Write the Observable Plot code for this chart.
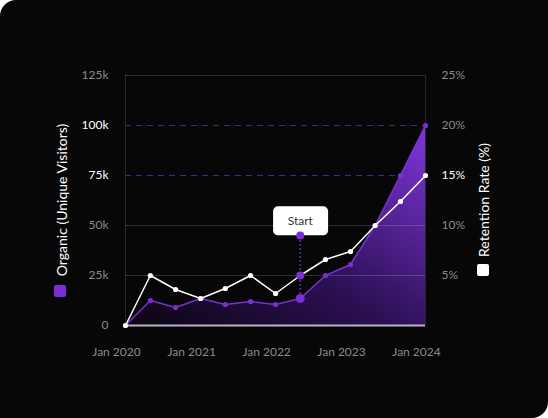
<!DOCTYPE html>
<html>
<head>
<meta charset="utf-8">
<script src="https://cdn.jsdelivr.net/npm/d3@7"></script>
<script src="https://cdn.jsdelivr.net/npm/@observablehq/plot@0.6"></script>
<style>
  html, body { margin: 0; padding: 0; background: #ffffff; }
  #card { width: 548px; height: 418px; background: #070707; border-radius: 16px 0 16px 0; overflow: hidden; position: relative; }
</style>
</head>
<body>
<div id="card"></div>
<script>
// ---- data ----
const dates = ["2020-01","2020-05","2020-09","2021-01","2021-05","2021-09","2022-01","2022-05","2022-09","2023-01","2023-05","2023-09","2024-01"];
const organic = [0, 12500, 9000, 13500, 10500, 12000, 10500, 13500, 25000, 30500, 50000, 75000, 100000];
const retention = [0, 5, 3.6, 2.7, 3.7, 5, 3.2, 5, 6.6, 7.4, 10, 12.4, 15];
const leftTicks = [0, 25000, 50000, 75000, 100000, 125000];
const leftHighlight = [75000, 100000];
const rightTicks = [5, 10, 15, 20, 25];
const rightHighlight = [15];
const xTicks = ["2020-01","2021-01","2022-01","2023-01","2024-01"];
const startIndex = 7;
const startValue = 45000;
const startLabel = "Start";
const seriesNames = ["Organic (Unique Visitors)", "Retention Rate (%)"];

const parse = d3.utcParse("%Y-%m");
const ratio = 125000 / 25; // right axis % -> left axis units
const rows = dates.map((d, i) => ({date: parse(d), organic: organic[i], retention: retention[i] * ratio}));
const purple = "#7B2FD0";

const highlightRows = leftHighlight.map(v => rows.find(r => r.organic === v));

const chart = Plot.plot({
  width: 548, height: 418,
  marginLeft: 125, marginRight: 123, marginTop: 75, marginBottom: 93,
  style: {background: "transparent", color: "#8a8a8a", fontFamily: "Lato, sans-serif", fontSize: "12px"},
  x: {type: "utc", domain: [parse(dates[0]), parse(dates[dates.length - 1])]},
  y: {domain: [0, 125000]},
  marks: [
    // frame verticals
    Plot.ruleX([parse(dates[0]), parse(dates[dates.length - 1])], {stroke: "#262626", strokeWidth: 1}),
    // highlight dashed guides
    Plot.ruleY(highlightRows, {y: "organic", x1: parse(dates[0]), x2: "date", stroke: "#3b2c86", strokeDasharray: "6,5", strokeWidth: 1}),
    // area
    Plot.areaY(rows, {x: "date", y: "organic", fill: "url(#areaGrad)"}),
    // grid
    Plot.gridY(leftTicks.filter(t => t !== 0 && !leftHighlight.includes(t)), {stroke: "#ffffff", strokeOpacity: 0.16}),
    // baseline
    Plot.ruleY([0], {stroke: "#b9b3c6", strokeWidth: 2}),
    // organic line
    Plot.line(rows, {x: "date", y: "organic", stroke: purple, strokeWidth: 1.5}),
    Plot.dot(rows, {x: "date", y: "organic", fill: purple, r: 2.6}),
    // start annotation rule
    Plot.ruleX([rows[startIndex]], {x: "date", y1: "organic", y2: () => startValue, stroke: "#4b2585", strokeWidth: 2, strokeDasharray: "2,2"}),
    // retention line
    Plot.line(rows, {x: "date", y: "retention", stroke: "#ffffff", strokeWidth: 1.5}),
    Plot.dot(rows, {x: "date", y: "retention", fill: "#ffffff", r: 2.6}),
    // start annotation dots
    Plot.dot([rows[startIndex]], {x: "date", y: "organic", fill: purple, r: 4.5}),
    Plot.dot([rows[startIndex]], {x: "date", y: "retention", fill: purple, r: 4}),
    Plot.text([rows[startIndex]], {x: "date", y: () => startValue, text: () => startLabel, dy: -14.5, fill: "#333333", fontSize: 12}),
    Plot.dot([rows[startIndex]], {x: "date", y: () => startValue, fill: purple, r: 4}),
    // axes
    Plot.axisY(leftTicks.filter(t => !leftHighlight.includes(t)), {anchor: "left", tickSize: 0, tickPadding: 17, label: null, color: "#8a8a8a", tickFormat: d => d === 0 ? "0" : d / 1000 + "k"}),
    Plot.axisY(leftHighlight, {anchor: "left", tickSize: 0, tickPadding: 17, label: null, color: "#ffffff", tickFormat: d => d / 1000 + "k"}),
    Plot.axisY(rightTicks.filter(t => !rightHighlight.includes(t)).map(t => t * ratio), {anchor: "right", tickSize: 0, tickPadding: 16, label: null, color: "#8a8a8a", tickFormat: d => d / ratio + "%"}),
    Plot.axisY(rightHighlight.map(t => t * ratio), {anchor: "right", tickSize: 0, tickPadding: 16, label: null, color: "#ffffff", tickFormat: d => d / ratio + "%"}),
    Plot.axisX(xTicks.map(parse), {anchor: "bottom", tickSize: 0, tickPadding: 22, dx: -9, label: null, color: "#8a8a8a", tickFormat: d3.utcFormat("%b %Y")})
  ]
});

document.getElementById("card").appendChild(chart);

const svg = d3.select(chart);
const defs = svg.insert("defs", ":first-child");
const grad = defs.append("linearGradient").attr("id", "areaGrad")
  .attr("x1", 0).attr("y1", 1).attr("x2", 1).attr("y2", 0);
grad.append("stop").attr("offset", "0%").attr("stop-color", "#0b0510");
grad.append("stop").attr("offset", "45%").attr("stop-color", "#2c1054");
grad.append("stop").attr("offset", "100%").attr("stop-color", "#8036dc");

// box behind Start label
const textNode = svg.selectAll("text").nodes().find(n => n.textContent === startLabel);
if (textNode) {
  const bb = textNode.getBBox();
  const w = 55, h = 29;
  const cx = bb.x + bb.width / 2, cy = bb.y + bb.height / 2;
  const parent = d3.select(textNode.parentNode);
  parent.attr("fill", "#333333");
  d3.select(textNode).attr("fill", "#333333");
  parent.insert("rect", ":first-child")
    .attr("x", cx - w / 2).attr("y", cy - h / 2 + 0.5)
    .attr("width", w).attr("height", h).attr("rx", 5)
    .attr("transform", textNode.getAttribute("transform"))
    .attr("fill", "#ffffff");
}

// legends (rotated)
const legend = svg.append("g").attr("font-family", "Lato, sans-serif").attr("font-size", 14);
legend.append("text").attr("transform", "translate(61,200) rotate(-90)")
  .attr("text-anchor", "middle").attr("dominant-baseline", "central").attr("fill", "#ffffff").text(seriesNames[0]);
legend.append("rect").attr("x", 54).attr("y", 285).attr("width", 12).attr("height", 12).attr("rx", 2).attr("fill", purple);
legend.append("text").attr("transform", "translate(483,200) rotate(-90)")
  .attr("text-anchor", "middle").attr("dominant-baseline", "central").attr("fill", "#ffffff").text(seriesNames[1]);
legend.append("rect").attr("x", 477).attr("y", 264).attr("width", 12).attr("height", 12).attr("rx", 2).attr("fill", "#ffffff");
</script>
</body>
</html>
